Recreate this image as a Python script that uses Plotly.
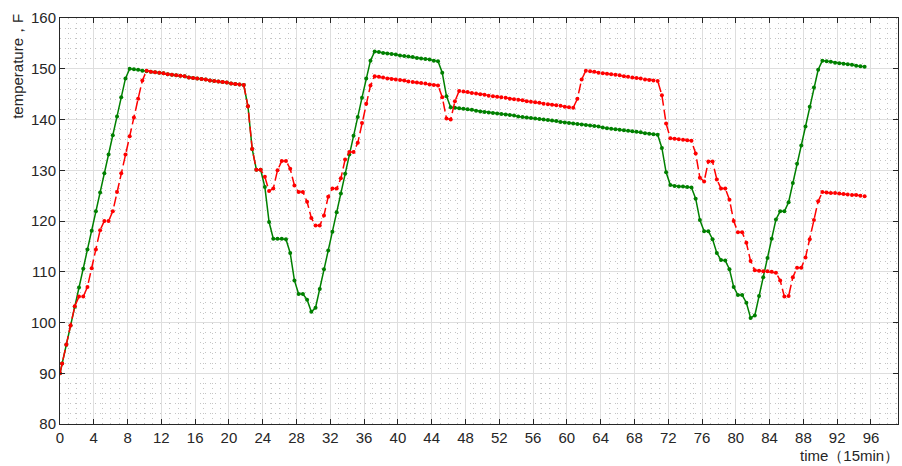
import plotly.graph_objects as go

# time grid (units of 15 min): initial point, then half-step samples
time = [0.0] + [0.25 + 0.5 * k for k in range(191)]

green_temp = [
    90.0,
    91.9, 95.6, 99.4, 103.1, 106.9, 110.6, 114.4, 118.1, 121.9, 125.6, 129.4, 133.1, 136.9, 140.6, 144.4, 148.1,
    150.0, 149.9, 149.8, 149.6, 149.5, 149.4, 149.3, 149.2, 149.1, 148.9, 148.8, 148.7, 148.6, 148.5, 148.3, 148.2,
    148.1, 148.0, 147.9, 147.7, 147.6, 147.5, 147.4, 147.3, 147.1, 147.0, 146.9, 146.8,
    142.6, 134.2, 130.1, 130.1, 126.7, 119.8, 116.5, 116.5, 116.5, 116.4, 113.7, 108.3, 105.6, 105.6, 104.5, 102.1,
    102.9, 106.6, 110.5, 114.2, 117.9, 121.7, 125.4, 129.3, 133.1, 136.8, 140.5, 144.3, 148.1, 151.6,
    153.4, 153.3, 153.1, 153.0, 152.9, 152.8, 152.6, 152.5, 152.4, 152.3, 152.1, 152.0, 151.9, 151.8, 151.6, 151.5,
    149.2, 144.6,
    142.4, 142.3, 142.2, 142.1, 142.0, 141.9, 141.7, 141.6, 141.5, 141.4, 141.3, 141.2, 141.1, 141.0, 140.9, 140.8,
    140.6, 140.5, 140.4, 140.3, 140.2, 140.1, 140.0, 139.9, 139.8, 139.7, 139.5, 139.4, 139.3, 139.2, 139.1, 139.0,
    138.9, 138.8, 138.7, 138.6, 138.4, 138.3, 138.2, 138.1, 138.0, 137.9, 137.8, 137.7, 137.6, 137.5, 137.3, 137.2,
    137.1, 137.0,
    134.4, 129.6, 127.1, 126.9, 126.8, 126.8, 126.7, 126.6, 124.4, 120.2, 118.0, 118.0, 116.4, 113.7, 112.3, 112.2,
    110.5, 107.0, 105.4, 105.4, 103.9, 100.9, 101.4, 105.2, 108.9, 112.7, 116.5, 120.3, 121.9, 121.9, 123.7, 127.5,
    131.3, 134.9, 138.6, 142.5, 146.3, 149.8, 151.6,
    151.5, 151.4, 151.2, 151.1, 151.0, 150.9, 150.8, 150.6, 150.5, 150.4,
]

red_temp = [
    90.0, 91.9, 95.6, 99.4, 103.2, 105.1, 105.1, 107.0, 110.7, 114.4, 118.2, 120.0, 120.0, 121.9, 125.7, 129.4,
    133.1, 136.7, 140.4, 144.1, 147.7, 149.6,
    149.4, 149.3, 149.2, 149.1, 148.9, 148.8, 148.7, 148.6, 148.5, 148.3, 148.2, 148.1, 148.0, 147.9, 147.7, 147.6,
    147.5, 147.4, 147.3, 147.1, 147.0, 146.9, 146.8,
    142.6, 134.2, 130.1, 130.1, 128.7, 125.9, 126.4, 130.0, 131.8, 131.8, 130.3, 127.0, 125.7, 125.7, 123.8, 120.6,
    119.1, 119.1, 121.1, 124.8, 126.4, 126.4, 128.4, 132.1, 133.6, 133.6, 135.4, 139.3, 143.1, 146.7,
    148.5, 148.4, 148.3, 148.1, 148.0, 147.9, 147.8, 147.7, 147.5, 147.4, 147.3, 147.2, 147.1, 146.9, 146.8, 146.7,
    144.4, 140.2, 140.0, 143.6,
    145.6, 145.5, 145.4, 145.2, 145.1, 145.0, 144.9, 144.7, 144.6, 144.5, 144.4, 144.3, 144.1, 144.0, 143.9, 143.8,
    143.6, 143.5, 143.4, 143.3, 143.1, 143.0, 142.9, 142.8, 142.7, 142.5, 142.4, 142.3,
    144.1, 147.9,
    149.6, 149.5, 149.4, 149.2, 149.1, 149.0, 148.9, 148.8, 148.7, 148.5, 148.4, 148.3, 148.2, 148.1, 147.9, 147.8,
    147.7, 147.6,
    144.8, 139.2, 136.3, 136.2, 136.1, 136.0, 135.9, 135.8, 133.3, 128.5, 127.8, 131.7, 131.7, 128.2, 126.4, 126.4,
    124.2, 120.0, 117.8, 117.8, 115.7, 112.1, 110.3, 110.2, 110.1, 110.1, 110.0, 109.8, 108.3, 105.1, 105.2, 108.9,
    110.8, 110.8, 112.8, 116.4, 120.2, 123.9, 125.7,
    125.6, 125.5, 125.5, 125.4, 125.3, 125.2, 125.1, 125.1, 125.0, 124.9,
]

x_ticks = list(range(0, 97, 4))
y_ticks = list(range(80, 161, 10))

n = min(len(time), len(green_temp), len(red_temp))

FONT = "Liberation Sans, Arial, Helvetica, sans-serif"
AX = "#262626"

fig = go.Figure()
fig.add_trace(go.Scatter(
    x=time[:n], y=green_temp[:n], mode="lines+markers",
    line=dict(color="#008000", width=1.5),
    marker=dict(color="#008000", size=4, symbol="circle"),
    showlegend=False,
))
fig.add_trace(go.Scatter(
    x=time[:n], y=red_temp[:n], mode="lines+markers",
    line=dict(color="#ff0000", width=1.5, dash="10px,4px"),
    marker=dict(color="#ff0000", size=4, symbol="circle"),
    showlegend=False,
))

axis_common = dict(
    showline=True, linecolor=AX, linewidth=1, mirror="ticks",
    ticks="inside", ticklen=5, tickcolor=AX, tickwidth=1,
    showgrid=True, gridcolor="#dedede", gridwidth=1,
    zeroline=False,
    tickfont=dict(family=FONT, size=15, color=AX),
)

MINOR_DASH = "1px,4px"
MINOR_COLOR = "#c4c4c4"

fig.update_layout(
    width=902, height=466,
    margin=dict(l=60, r=4, t=18, b=42),
    paper_bgcolor="white", plot_bgcolor="white",
    xaxis=dict(
        range=[0, 99.2], tickvals=x_ticks,
        minor=dict(dtick=1, tick0=0, showgrid=True, gridcolor=MINOR_COLOR, griddash=MINOR_DASH, gridwidth=1,
                   ticks=""),
        **axis_common,
    ),
    yaxis=dict(
        range=[80, 160], tickvals=y_ticks,
        minor=dict(dtick=2, tick0=80, showgrid=True, gridcolor=MINOR_COLOR, griddash=MINOR_DASH, gridwidth=1,
                   ticks=""),
        **axis_common,
    ),
    annotations=[
        dict(text="temperature，F", xref="paper", yref="paper", x=-0.05, y=0.88,
             xanchor="center", yanchor="middle", textangle=-90, showarrow=False,
             font=dict(family=FONT, size=15, color=AX)),
        dict(text="time（15min）", xref="paper", yref="paper", x=1.004, y=-0.078,
             xanchor="right", yanchor="middle", showarrow=False,
             font=dict(family=FONT, size=15, color=AX)),
    ],
)

fig.write_html("out.html")
